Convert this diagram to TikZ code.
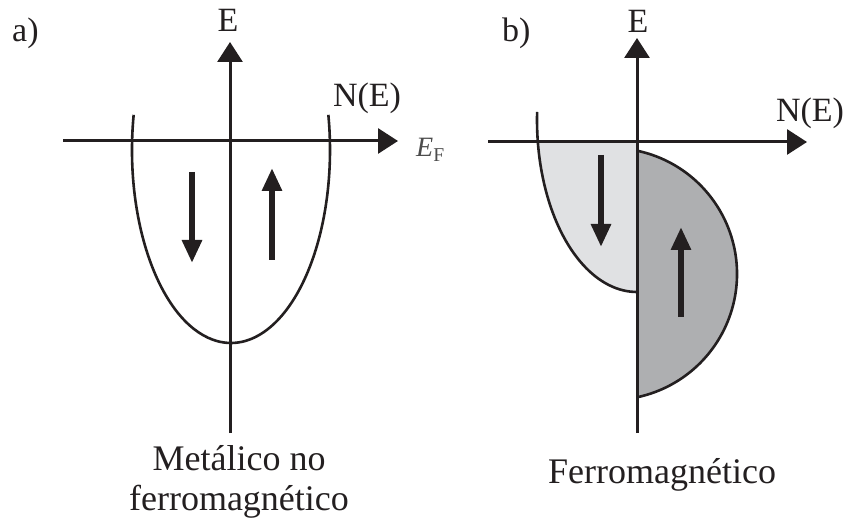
\documentclass[tikz,border=0pt]{standalone}
\usepackage{fontspec}
\setmainfont{Liberation Serif}
\usepackage{xcolor}
\usetikzlibrary{arrows.meta,calc}
\definecolor{inkgray}{HTML}{231F20}
\definecolor{spindown}{HTML}{E0E1E3}
\definecolor{spinup}{HTML}{AEAFB1}

\begin{document}
\begin{tikzpicture}[x=1pt,y=1pt,>=Latex,
    axis/.style={draw=inkgray,line width=3pt,-{Triangle[length=20pt,width=25pt]}},
    band/.style={draw=inkgray,line width=2.6pt},
    spin/.style={draw=inkgray,line width=6pt,-{Triangle[length=23pt,width=19pt]}},
    lbl/.style={inner sep=0pt,font=\fontsize{34}{40}\selectfont,text=inkgray},
    caption/.style={lbl,font=\fontsize{36}{40}\selectfont,align=center}]
    \useasboundingbox (0,0) rectangle (848,522);

    % a) normal metal
    \coordinate (aBot) at (230,89);
    \coordinate (aTop) at (230,480);
    \coordinate (aLeft) at (63,381);
    \coordinate (aRight) at (398,381);
    \coordinate (aBand) at (231,372);
    \draw[axis] (aBot)--(aTop);
    \draw[axis] (aLeft)--(aRight);
    \draw[band] ($(aBand)+(169.5:99 and 193)$)
        arc[start angle=169.5,end angle=370.5,x radius=99,y radius=193];
    \coordinate (aDnS) at (192,350);
    \coordinate (aDnE) at (192,259);
    \coordinate (aUpS) at (272,262);
    \coordinate (aUpE) at (272,354);
    \draw[spin] (aDnS)--(aDnE);
    \draw[spin] (aUpS)--(aUpE);
    \node[lbl,anchor=base west] (aTag) at (12,480.5) {a)};
    \node[lbl,anchor=base] (aE) at (228,490) {E};
    \node[lbl,anchor=base] (aN) at (367,415) {N(E)};
    \node[lbl,anchor=base west,font=\fontsize{28}{32}\selectfont,text=black!70] (aEF) at (416,365) {\textit{E}\textsubscript{F}};
    \node[caption,anchor=base] (aCap) at (239,12) {Metálico no\\ferromagnético};

    % b) ferromagnet
    \coordinate (bBot) at (637,89);
    \coordinate (bTop) at (637,484);
    \coordinate (bLeft) at (488,380);
    \coordinate (bRight) at (807,380);
    \coordinate (bO) at (637,380);
    \coordinate (bDnBand) at (637,402);
    \coordinate (bUpBand) at (611,248);
    \fill[spindown] (bO)--($(bDnBand)+(187.35:100 and 172)$)
        arc[start angle=187.35,end angle=270,x radius=100,y radius=172]--cycle;
    \fill[spinup] ($(bUpBand)+(78.1:126)$)
        arc[start angle=78.1,end angle=-78.1,radius=126]--cycle;
    \draw[axis] (bBot)--(bTop);
    \draw[axis] (bLeft)--(bRight);
    \draw[band] ($(bDnBand)+(177.33:100 and 172)$)
        arc[start angle=177.33,end angle=270,x radius=100,y radius=172];
    \draw[band] ($(bUpBand)+(78.1:126)$)
        arc[start angle=78.1,end angle=-78.1,radius=126];
    \coordinate (bDnS) at (601,367);
    \coordinate (bDnE) at (601,275);
    \coordinate (bUpS) at (681,205);
    \coordinate (bUpE) at (681,295);
    \draw[spin] (bDnS)--(bDnE);
    \draw[spin] (bUpS)--(bUpE);
    \node[lbl,anchor=base west] (bTag) at (502,480) {b)};
    \node[lbl,anchor=base] (bE) at (638,489) {E};
    \node[lbl,anchor=base] (bN) at (810,400) {N(E)};
    \node[caption,anchor=base] (bCap) at (662,39) {Ferromagnético};
\end{tikzpicture}
\end{document}
